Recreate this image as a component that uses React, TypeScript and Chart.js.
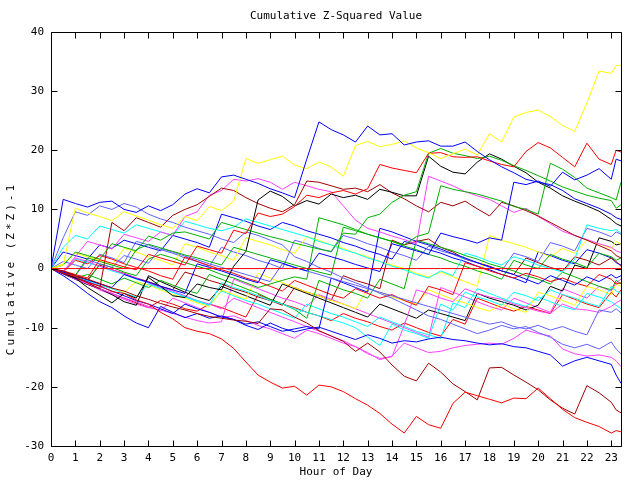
import React, { useEffect, useRef } from "react";
import { Chart, registerables } from "chart.js";

Chart.register(...registerables);

const TITLE = "Cumulative Z-Squared Value";
const X_TITLE = "Hour of Day";
const Y_TITLE = "Cumulative (Z*Z)-1";
const X_MAX = 23.4;
const Y_MIN = -30;
const Y_MAX = 40;
const X_TICKS = [0, 1, 2, 3, 4, 5, 6, 7, 8, 9, 10, 11, 12, 13, 14, 15, 16, 17, 18, 19, 20, 21, 22, 23];
const Y_TICKS = [-30, -20, -10, 0, 10, 20, 30, 40];

const HOURS = [0, 0.5, 1, 1.5, 2, 2.5, 3, 3.5, 4, 4.5, 5, 5.5, 6, 6.5, 7, 7.5, 8, 8.5, 9, 9.5, 10, 10.5, 11, 11.5, 12, 12.5, 13, 13.5, 14, 14.5, 15, 15.5, 16, 16.5, 17, 17.5, 18, 18.5, 19, 19.5, 20, 20.5, 21, 21.5, 22, 22.5, 23, 23.2, 23.4];

const ZERO_LINE = [0, 0, 0, 0, 0, 0, 0, 0, 0, 0, 0, 0, 0, 0, 0, 0, 0, 0, 0, 0, 0, 0, 0, 0, 0, 0, 0, 0, 0, 0, 0, 0, 0, 0, 0, 0, 0, 0, 0, 0, 0, 0, 0, 0, 0, 0, 0, 0, 0];
const RED_LOW = [0, -0.8, -1.3, -2.4, -2.9, -3.9, -4.2, -5.3, -6.0, -7.4, -8.5, -10.0, -10.6, -11.0, -11.9, -13.5, -15.8, -18.0, -19.2, -20.2, -19.9, -21.4, -19.7, -20.0, -20.8, -22.0, -23.1, -24.5, -26.3, -27.8, -25.0, -26.4, -27.0, -22.8, -20.9, -21.5, -22.1, -22.7, -21.9, -22.0, -20.2, -22.0, -23.8, -25.2, -26.0, -26.7, -27.8, -27.4, -27.6];
const DKRED_LOW = [0, -0.4, -1.2, -1.8, -2.5, -3.3, -3.8, -4.6, -5.2, -5.9, -6.5, -7.0, -7.6, -8.1, -8.4, -8.7, -8.9, -9.3, -6.8, -7.0, -8.2, -9.2, -10.5, -11.4, -12.3, -14.0, -12.6, -14.1, -16.3, -18.2, -19.0, -16.0, -17.5, -19.5, -20.8, -22.2, -16.8, -16.7, -18.0, -19.2, -20.5, -22.2, -23.6, -24.6, -19.8, -21.0, -22.6, -23.9, -24.4];
const BLUE_TOP = [0, 11.7, 11.0, 10.4, 11.2, 11.4, 10.0, 9.5, 10.6, 9.8, 10.8, 12.6, 13.5, 12.8, 15.5, 15.8, 15.1, 14.4, 13.5, 12.8, 12.0, 18.5, 24.8, 23.5, 22.6, 21.4, 24.1, 22.6, 22.8, 20.9, 21.4, 21.6, 20.7, 20.7, 21.4, 19.8, 18.4, 17.2, 16.2, 15.1, 14.6, 14.2, 13.2, 11.8, 11.0, 10.2, 9.2, 8.6, 8.3];
const YELLOW_TOP = [0, 0.6, 10.2, 9.4, 8.8, 8.1, 9.6, 8.9, 8.2, 7.4, 6.8, 8.8, 8.1, 10.5, 9.8, 11.4, 18.6, 17.8, 18.4, 19.0, 17.5, 16.9, 18.0, 17.2, 15.6, 20.8, 21.5, 20.6, 21.0, 21.6, 20.4, 19.6, 18.6, 19.4, 20.2, 19.2, 22.8, 21.4, 25.6, 26.4, 26.8, 25.7, 24.2, 23.2, 28.0, 33.4, 33.0, 34.3, 34.4];
const RED_UP = [0, -0.4, -1.0, -1.6, 1.5, 0.9, 0.3, -0.2, 2.4, 1.8, 1.2, 0.6, 3.8, 3.2, 2.6, 6.5, 5.9, 9.4, 8.8, 9.2, 10.5, 12.4, 12.0, 12.8, 13.2, 12.6, 13.5, 17.6, 17.0, 16.6, 16.2, 19.5, 19.6, 18.9, 18.8, 18.9, 18.2, 17.6, 17.2, 19.8, 21.3, 20.4, 18.8, 17.2, 21.2, 18.5, 17.6, 20.0, 19.7];
const BLUE_UP = [0, -0.6, -1.3, -1.9, -2.6, -3.2, -1.0, -1.7, -2.3, -3.0, -3.6, -4.2, 0.8, 0.2, -0.4, -1.1, -1.8, -2.4, 1.5, 0.9, 0.2, -0.4, 2.6, 2.0, 1.4, 0.7, 0.1, -0.5, 4.2, 3.6, 3.0, 2.4, 6.0, 5.4, 4.9, 4.3, 5.2, 4.8, 14.6, 14.2, 14.8, 13.9, 16.3, 15.0, 15.8, 16.9, 15.1, 18.5, 18.2];
const GREEN_1 = [0, 0.6, 2.8, 2.2, 1.6, 4.2, 3.6, 3.0, 5.5, 4.8, 6.0, 6.2, 5.6, 5.0, 7.8, 7.2, 6.6, 6.0, 5.4, 4.9, 4.3, 3.8, 3.3, 2.9, 6.0, 5.8, 8.6, 9.2, 11.2, 12.4, 13.0, 19.5, 20.3, 19.5, 19.1, 18.6, 19.0, 18.3, 17.4, 16.6, 15.7, 14.8, 13.8, 13.1, 12.4, 11.9, 11.5, 10.2, 10.8];
const GREEN_2 = [0, -0.5, -1.1, 1.8, 1.2, 0.6, 0, 3.2, 4.1, 3.5, 2.9, 2.3, 1.8, 1.2, 0.6, 3.6, 3.0, 2.4, 1.8, 1.2, 0.6, 0.0, -0.6, -1.1, 7.0, 6.4, 5.8, 5.2, 4.6, 4.0, 5.4, 6.0, 14.0, 13.4, 13.0, 12.6, 12.0, 11.4, 10.5, 10.0, 9.2, 17.8, 16.8, 15.4, 13.6, 12.8, 12.0, 11.6, 14.6];
const BLACK_1 = [0, -0.8, -1.6, -3.2, -4.5, -5.8, -4.2, -5.0, -1.5, -3.0, -4.6, -4.9, -2.6, -3.2, -3.6, 0.4, 2.9, 11.6, 13.1, 12.2, 10.6, 11.5, 10.9, 12.6, 12.0, 12.4, 11.7, 13.4, 12.9, 12.3, 12.3, 19.0, 17.3, 16.3, 16.0, 18.0, 19.4, 18.5, 17.3, 16.2, 14.6, 13.6, 12.3, 11.4, 10.6, 9.7, 8.3, 7.6, 7.2];
const DKRED_A = [0, -0.7, -1.5, -2.4, -3.4, 7.8, 6.4, 8.6, 7.8, 7.0, 9.0, 10.0, 10.8, 12.2, 13.6, 13.2, 12.0, 11.0, 10.2, 9.6, 10.8, 14.8, 14.6, 14.0, 13.4, 13.6, 13.0, 14.2, 12.8, 11.8, 10.6, 9.6, 11.2, 10.6, 11.4, 10.1, 8.9, 11.2, 10.6, 9.8, 8.9, 7.8, 6.7, 5.6, 4.8, 3.9, 3.0, 2.2, 1.8];
const MAGENTA_A = [0, -0.5, 2.0, 4.6, 4.0, 3.3, 5.8, 5.2, 4.6, 6.2, 5.6, 8.8, 9.6, 12.4, 13.2, 15.1, 14.8, 15.2, 14.6, 13.4, 14.6, 14.0, 13.4, 13.0, 10.6, 8.2, 6.8, 6.2, 5.5, 4.9, 4.2, 15.6, 14.8, 14.0, 13.0, 12.3, 11.7, 10.6, 9.5, 10.2, 8.8, 7.6, 6.3, 5.6, 4.9, 4.2, 3.6, 3.0, 2.7];
const LBLUE_1 = [0, 5.2, 9.6, 9.0, 10.6, 10.0, 11.0, 10.4, 9.2, 8.4, 7.8, 7.0, 6.4, 5.8, 5.0, 4.4, 6.2, 5.6, 4.8, 4.0, 2.0, 1.2, 0.2, -0.6, -1.6, -2.4, -3.2, -4.2, -5.0, -6.0, -7.0, -8.0, -8.6, -9.4, -10.2, -11.0, -10.4, -9.6, -10.2, -9.8, -10.8, -11.6, -12.8, -13.4, -12.8, -13.6, -12.4, -13.6, -14.4];
const LBLUE_2 = [0, -0.6, -1.2, 1.5, 0.8, 0.2, 2.2, 1.6, 0.9, 3.4, 2.8, 2.1, 1.5, 0.8, 0.2, -0.4, -1.0, -1.6, -2.2, 0.8, 0.2, -0.4, -1.0, -1.6, -2.2, -2.8, -3.4, -4.0, -4.6, -5.2, -5.8, -6.4, -7.0, -7.6, -8.2, -8.8, -9.4, -9.0, -9.8, -10.2, -9.6, -10.4, -9.8, -10.6, -11.2, -7.0, -7.4, -6.8, -7.5];
const BLUE_LOW = [0, -1.2, -2.6, -4.2, -5.6, -6.6, -8.0, -9.2, -10.0, -6.4, -7.4, -8.3, -7.6, -8.4, -8.0, -8.6, -9.6, -10.3, -9.2, -10.1, -10.7, -10.2, -9.9, -10.6, -11.3, -12.0, -11.2, -11.8, -12.6, -12.2, -12.4, -11.9, -11.6, -12.0, -12.2, -12.6, -12.9, -12.7, -13.2, -13.4, -14.0, -14.6, -16.5, -15.6, -15.0, -15.6, -16.2, -18.0, -19.4];
const BLUE_MID = [0, -0.8, -1.6, -2.2, -3.0, -3.8, -4.6, -5.4, -6.0, -6.8, -7.6, -6.0, -6.8, -7.4, -8.2, -8.6, -9.4, -9.0, -9.8, -10.6, -10.2, -9.8, -10.2, -1.6, -2.4, -3.2, -4.0, 6.8, 6.2, 5.4, 4.6, 4.0, 3.3, 2.5, 1.8, 1.0, 0.3, -0.4, -1.0, -1.8, -2.6, -1.2, -2.0, -2.8, -1.4, -2.2, -1.0, -1.6, -1.2];
const CYAN_1 = [0, 3.6, 5.6, 5.0, 7.2, 6.6, 6.0, 7.4, 6.8, 6.2, 5.6, 8.0, 7.4, 6.8, 6.4, 7.0, 8.4, 7.8, 7.2, 6.6, 6.0, 5.4, 4.6, 4.0, 3.2, 2.6, 1.8, 1.2, 0.4, -0.2, -1.0, -1.6, -0.4, -1.2, 2.6, 2.0, 1.2, 0.6, 2.0, 1.4, 0.6, 0.0, -0.6, 1.6, 7.4, 6.8, 6.4, 6.6, 6.0];
const CYAN_2 = [0, -0.6, -1.4, -2.0, -2.8, -3.4, -4.2, -4.8, -2.6, -3.4, -4.0, -4.8, -5.4, -6.2, -2.4, -3.2, -3.8, -4.6, -5.4, -6.0, -6.8, -7.4, -8.0, -8.6, -9.2, -10.0, -11.6, -13.0, -9.4, -10.4, -11.0, -11.8, -6.0, -7.0, -4.0, -4.8, -5.4, -6.2, -4.0, -4.6, -5.4, -3.6, -4.4, -5.0, -5.8, -6.4, -3.0, -3.8, -4.2];
const MAGENTA_2 = [0, -0.8, -1.8, -2.6, -3.4, -4.2, -5.0, -5.6, -6.4, -7.2, -5.0, -5.8, -6.6, -7.4, -8.2, -8.0, -8.8, -9.6, -10.2, -11.0, -11.8, -10.4, -11.0, -11.8, -12.6, -13.2, -14.2, -15.4, -14.8, -12.6, -13.4, -14.2, -14.0, -13.4, -13.0, -12.8, -12.6, -12.8, -11.8, -10.4, -11.0, -11.4, -13.6, -14.4, -14.8, -14.6, -15.0, -15.6, -16.6];
const MAGENTA_3 = [0, -0.5, 1.8, 1.2, 0.4, -0.2, -0.9, -1.6, -2.4, -3.2, -3.8, -4.6, -5.4, -6.0, -6.8, -5.0, -5.8, -6.6, -7.4, -8.2, -9.0, -9.8, -10.6, -11.4, -12.2, -13.2, -14.4, -15.2, -14.9, -9.6, -3.6, -4.2, -5.0, -5.6, -3.4, -4.2, -4.8, -5.2, -6.0, -6.6, -7.2, -7.6, -6.0, -6.8, -7.0, -7.4, -6.4, -5.8, -5.3];
const RED_3 = [0, -0.6, 1.4, 0.8, 2.2, 1.6, 0.8, 0.2, -0.4, -1.2, -1.8, 2.0, 1.2, 0.5, -0.2, -0.8, -1.6, -2.2, -3.0, -3.8, -2.0, -2.8, -3.6, -4.4, -5.0, -3.4, -4.2, -5.0, -4.4, -5.4, -6.2, -3.0, -3.6, -4.4, 1.0, 0.4, -0.4, -1.0, -1.6, -0.8, -1.4, -2.2, -1.6, -2.4, -3.0, -1.0, -1.8, -2.6, -2.4];
const GREEN_3 = [0, -0.6, -1.4, -2.2, 0.8, 0.2, -0.6, -1.2, 1.6, 2.4, 1.8, 1.0, 0.4, -0.2, -1.0, -1.6, -2.4, -3.2, -2.6, -2.0, -1.4, -1.8, 8.6, 8.0, 7.4, 6.6, 5.8, 5.2, 4.6, 3.8, 3.2, 2.4, 1.8, 1.0, 0.4, -0.4, -1.0, -1.8, 1.4, 0.6, 0.0, 2.4, 1.6, 1.0, 0.2, 2.6, 2.0, 1.4, 1.8];
const GREEN_4 = [0, -0.8, -1.6, -1.0, -1.8, -2.6, -1.6, -2.4, -3.2, -2.0, -2.8, -3.6, -4.2, -1.0, -1.8, -2.6, -3.4, -4.2, -5.2, -6.0, -6.9, -8.4, -2.0, -2.8, -3.6, -4.2, -5.0, -1.8, -2.6, -3.4, 4.8, 4.2, 3.6, 3.0, 2.2, 1.6, 0.8, 0.2, -0.4, -1.2, -1.8, -2.6, -0.6, -1.4, -2.2, -3.0, -3.6, -2.0, -2.6];
const YELLOW_2 = [0, 0.8, 2.6, 2.0, 1.4, 0.6, 3.4, 2.8, 2.0, 1.4, 0.6, 4.2, 3.6, 2.8, 2.2, 1.4, 5.2, 4.6, 4.0, 3.2, 2.6, 5.4, 4.8, 4.0, 3.4, 2.6, 2.0, 1.2, 0.6, 0.0, -0.8, -1.4, -0.6, -1.4, -2.2, -3.0, 5.6, 4.8, 4.2, 3.6, 2.8, 2.0, 3.4, 2.6, 4.8, 4.2, 3.4, 4.6, 4.1];
const YELLOW_3 = [0, -0.5, -1.2, -1.9, -2.6, -3.4, -4.0, -2.2, -2.8, -3.6, -4.4, -5.0, -5.8, -6.4, -3.6, -4.4, -5.2, -0.8, -1.6, -2.4, -3.2, -4.0, -4.6, -5.4, -6.0, -6.8, -3.4, -4.0, -4.8, -5.4, -6.0, -3.6, -4.4, -5.2, -5.8, -6.6, -7.2, -6.0, -6.8, -7.4, -4.0, -4.6, -5.4, -6.2, -3.0, -3.6, -4.4, -2.6, -3.0];
const BLACK_2 = [0, -0.9, -1.8, -2.7, -3.4, -4.4, -5.6, -6.2, -1.2, -2.2, -3.1, -4.0, -4.8, -5.4, -3.0, -3.8, -4.6, -5.4, -6.2, -2.6, -3.4, -4.2, -5.0, -5.8, -6.6, -7.4, -8.2, -6.0, -6.8, -7.6, -8.4, -7.0, -7.6, -8.2, -8.8, -4.2, -5.0, -5.6, -6.2, -7.0, -6.2, -3.0, -3.8, 0.6, 0.0, 5.2, 4.6, 4.0, 4.2];
const CYAN_3 = [0, -0.5, 1.6, 1.0, 0.4, -0.4, -1.0, -1.8, -2.4, -3.2, -4.0, -4.8, -5.6, -6.2, -3.8, -4.6, -5.4, -6.0, -6.8, -7.6, -8.4, -6.0, -6.8, -7.6, -8.2, -9.0, -9.8, -8.2, -9.0, -9.8, -10.6, -11.2, -11.8, -5.8, -6.6, -3.4, -4.2, -5.0, -5.8, -6.4, -4.8, -5.6, -6.4, -7.0, -4.2, -4.8, -5.6, -6.2, -6.8];
const MAGENTA_4 = [0, -0.9, -1.8, -2.6, -3.6, -4.4, -5.2, -6.0, -6.6, -7.0, -7.6, -8.2, -8.8, -9.2, -9.0, -1.8, -2.6, -3.4, -4.2, -5.0, -5.6, -6.4, -4.4, -5.2, -6.0, -6.8, -7.6, -8.4, -9.2, -10.0, -10.8, -11.6, -3.2, -4.0, -4.8, -5.6, -6.4, -7.0, -5.0, -5.8, -6.6, -7.4, -3.4, -4.2, -5.0, -3.0, -3.8, -2.4, -1.8];
const LBLUE_3 = [0, 1.2, 0.6, 0.0, 2.4, 1.8, 1.0, 4.6, 4.0, 3.2, 2.6, 1.8, 1.2, 0.4, 3.6, 2.8, 2.2, 1.4, 0.8, 0.0, 4.8, 4.2, 3.4, 2.8, 5.6, 5.0, 4.2, 3.6, 2.8, 2.2, 1.4, 3.8, 3.0, 2.4, 1.6, 1.0, 0.2, -0.4, 2.6, 2.0, 1.2, 4.4, 3.8, 3.0, 6.8, 6.2, 5.4, 6.2, 5.8];
const DKRED_3 = [0, -0.6, -1.2, -1.9, 0.6, -0.2, -0.8, -1.6, -2.2, -3.0, -3.6, -0.6, -1.2, -2.0, -2.6, -3.4, -4.0, -4.8, -5.4, -6.2, -3.2, -4.0, -4.6, -5.4, -1.2, -2.0, -2.6, -3.4, 4.8, 4.0, 4.6, 5.0, 3.6, 2.8, 1.6, 1.0, 0.4, -0.4, -1.0, 1.8, 1.0, 0.2, -0.4, 2.0, 1.4, 0.6, 1.8, 1.2, 0.4];
const RED_5 = [0, -0.8, -1.6, -2.4, -3.4, -4.2, -5.0, -5.8, -6.6, -5.4, -6.0, -6.8, -7.2, -6.0, -6.6, -7.4, -8.2, -4.4, -5.2, -6.0, -6.6, -7.4, -8.0, -8.8, -7.6, -8.4, -9.0, -9.8, -10.4, -9.2, -10.0, -10.8, -11.4, -8.6, -9.4, -5.0, -5.8, -6.6, -7.2, -6.4, -7.0, -7.6, -4.4, -5.2, -6.0, -6.6, -4.0, -4.8, -3.6];
const BLUE_5 = [0, 2.8, 2.2, 1.6, 4.0, 3.4, 4.8, 4.2, 3.6, 3.0, 5.6, 5.0, 4.4, 3.6, 9.2, 8.6, 8.0, 7.2, 6.6, 7.8, 7.2, 6.4, 5.8, 5.2, 4.4, 3.8, 3.0, 2.4, 1.6, 4.6, 4.0, 3.2, 2.6, 1.8, 1.2, 0.4, -0.2, -1.0, -1.6, -2.4, 2.8, 2.2, 1.4, 0.8, 3.2, 2.6, 1.8, 1.0, 0.6];

const RED = "#ff0000";
const GREEN = "#00b000";
const BLUE = "#0000ff";
const MAGENTA = "#ff40ff";
const CYAN = "#00ffff";
const YELLOW = "#ffff00";
const BLACK = "#000000";
const DKRED = "#a00000";
const LBLUE = "#6060ff";

const SERIES: [number[], string][] = [
  [ZERO_LINE, RED],
  [RED_LOW, RED],
  [DKRED_LOW, DKRED],
  [BLUE_TOP, BLUE],
  [YELLOW_TOP, YELLOW],
  [RED_UP, RED],
  [BLUE_UP, BLUE],
  [GREEN_1, GREEN],
  [GREEN_2, GREEN],
  [BLACK_1, BLACK],
  [DKRED_A, DKRED],
  [MAGENTA_A, MAGENTA],
  [LBLUE_1, LBLUE],
  [LBLUE_2, LBLUE],
  [BLUE_LOW, BLUE],
  [BLUE_MID, BLUE],
  [CYAN_1, CYAN],
  [CYAN_2, CYAN],
  [MAGENTA_2, MAGENTA],
  [MAGENTA_3, MAGENTA],
  [RED_3, RED],
  [GREEN_3, GREEN],
  [GREEN_4, GREEN],
  [YELLOW_2, YELLOW],
  [YELLOW_3, YELLOW],
  [BLACK_2, BLACK],
  [CYAN_3, CYAN],
  [MAGENTA_4, MAGENTA],
  [LBLUE_3, LBLUE],
  [DKRED_3, DKRED],
  [RED_5, RED],
  [BLUE_5, BLUE],
];

const FONT = '11px "DejaVu Sans Mono", monospace';

const framePlugin = {
  id: "gnuFrame",
  afterDatasetsDraw(chart: any) {
    const { ctx, chartArea: a, scales } = chart;
    const x = scales.x;
    const y = scales.y;
    const L = Math.round(a.left) + 0.5;
    const R = Math.round(a.right) + 0.5;
    const T = Math.round(a.top) + 0.5;
    const B = Math.round(a.bottom) + 0.5;
    ctx.save();
    ctx.strokeStyle = "#000";
    ctx.lineWidth = 1;
    ctx.beginPath();
    ctx.moveTo(L, T);
    ctx.lineTo(R, T);
    ctx.lineTo(R, B);
    ctx.lineTo(L, B);
    ctx.closePath();
    const tl = 6;
    X_TICKS.forEach((v) => {
      const px = Math.round(x.getPixelForValue(v)) + 0.5;
      ctx.moveTo(px, B);
      ctx.lineTo(px, B - tl);
      ctx.moveTo(px, T);
      ctx.lineTo(px, T + tl);
    });
    Y_TICKS.forEach((v) => {
      const py = Math.round(y.getPixelForValue(v)) + 0.5;
      ctx.moveTo(L, py);
      ctx.lineTo(L + tl, py);
      ctx.moveTo(R, py);
      ctx.lineTo(R - tl, py);
    });
    ctx.stroke();

    ctx.fillStyle = "#000";
    ctx.font = FONT;
    ctx.textAlign = "center";
    ctx.textBaseline = "middle";
    const cx = (a.left + a.right) / 2;
    ctx.fillText(TITLE, cx, 16);
    ctx.fillText(X_TITLE, cx, 472);
    ctx.translate(11, y.getPixelForValue(0));
    ctx.rotate(-Math.PI / 2);
    (ctx as any).letterSpacing = "3px";
    ctx.fillText(Y_TITLE, 0, 0);
    ctx.restore();
  },
};

export default function App() {
  const ref = useRef<HTMLCanvasElement | null>(null);

  useEffect(() => {
    if (!ref.current) return;
    const datasets = SERIES.map(([vals, color]) => ({
      data: HOURS.map((h, i) => ({ x: h, y: vals[i] })),
      borderColor: color,
      backgroundColor: color,
      borderWidth: 1,
      pointRadius: 0,
      tension: 0,
      fill: false,
    }));
    const chart = new Chart(ref.current, {
      type: "line",
      data: { datasets },
      options: {
        animation: false,
        responsive: false,
        maintainAspectRatio: false,
        devicePixelRatio: 1,
        layout: { padding: { top: 32, right: 19, bottom: 0, left: 0 } },
        plugins: {
          legend: { display: false },
          tooltip: { enabled: false },
          title: { display: false },
        },
        scales: {
          x: {
            type: "linear",
            min: 0,
            max: X_MAX,
            afterFit: (s: any) => {
              s.height = 34;
            },
            afterBuildTicks: (s: any) => {
              s.ticks = X_TICKS.map((v) => ({ value: v }));
            },
            grid: { display: false, drawTicks: false },
            border: { display: false },
            ticks: {
              color: "#000",
              font: { family: '"DejaVu Sans Mono", monospace', size: 11 },
              padding: 6,
              maxRotation: 0,
              autoSkip: false,
              callback: (v: any) => String(v),
            },
          },
          y: {
            type: "linear",
            min: Y_MIN,
            max: Y_MAX,
            afterFit: (s: any) => {
              s.width = 51;
            },
            afterBuildTicks: (s: any) => {
              s.ticks = Y_TICKS.map((v) => ({ value: v }));
            },
            grid: { display: false, drawTicks: false },
            border: { display: false },
            ticks: {
              color: "#000",
              font: { family: '"DejaVu Sans Mono", monospace', size: 11 },
              padding: 7,
              callback: (v: any) => String(v),
            },
          },
        },
      },
      plugins: [framePlugin],
    });
    return () => chart.destroy();
  }, []);

  return (
    <div style={{ position: "fixed", left: 0, top: 0, width: 640, height: 480, background: "#fff" }}>
      <canvas ref={ref} width={640} height={480} style={{ width: 640, height: 480, display: "block" }} />
    </div>
  );
}
